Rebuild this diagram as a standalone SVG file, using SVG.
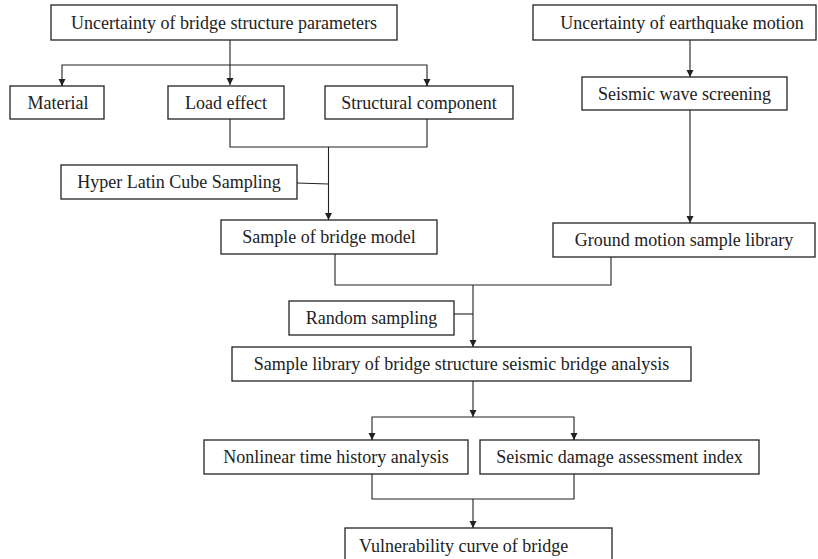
<svg xmlns="http://www.w3.org/2000/svg" width="818" height="559" viewBox="0 0 818 559">
<style>
.box{fill:#fff;stroke:#222;stroke-width:1.3}
.lbl{font-family:'Liberation Serif','DejaVu Serif','Times New Roman',serif;font-size:18px;fill:#222;text-anchor:middle}
.ln{fill:none;stroke:#222;stroke-width:1.1}
</style>
<defs>
<marker id="ah" markerUnits="userSpaceOnUse" markerWidth="8" markerHeight="8" refX="7" refY="3.5" orient="auto">
<path d="M0,0 L7,3.5 L0,7 z" fill="#222"/>
</marker>
</defs>
<rect width="818" height="559" fill="#fff"/>
<g id="connectors">
<path class="ln" d="M230,40 V85" marker-end="url(#ah)"/>
<path class="ln" d="M62,86 V65 H427 V86" />
<path class="ln" d="M62,80 V86" marker-end="url(#ah)"/>
<path class="ln" d="M427,80 V86" marker-end="url(#ah)"/>
<path class="ln" d="M230,119 V147 H427 V119"/>
<path class="ln" d="M328.5,147 V220" marker-end="url(#ah)"/>
<path class="ln" d="M297,183 L328.5,184"/>
<path class="ln" d="M690,40 V77" marker-end="url(#ah)"/>
<path class="ln" d="M690,110 V223" marker-end="url(#ah)"/>
<path class="ln" d="M335,254 V285 H611 V257"/>
<path class="ln" d="M473,285 V347" marker-end="url(#ah)"/>
<path class="ln" d="M454,314 H473"/>
<path class="ln" d="M473,381 V417" marker-end="url(#ah)"/>
<path class="ln" d="M372,440 V417 H574 V440"/>
<path class="ln" d="M372,434 V440" marker-end="url(#ah)"/>
<path class="ln" d="M574,434 V440" marker-end="url(#ah)"/>
<path class="ln" d="M372,474 V499 H574 V474"/>
<path class="ln" d="M473,499 V528" marker-end="url(#ah)"/>
</g>
<g id="n-bridge-params"><rect class="box" x="51" y="5" width="346" height="35"/><text class="lbl" x="224" y="28.5">Uncertainty of bridge structure parameters</text></g>
<g id="n-earthquake"><rect class="box" x="533" y="5" width="283" height="35"/><text class="lbl" x="682" y="28.5">Uncertainty of earthquake motion</text></g>
<g id="n-material"><rect class="box" x="10" y="86" width="94" height="33"/><text class="lbl" x="58" y="108.5">Material</text></g>
<g id="n-load"><rect class="box" x="168" y="86" width="116" height="33"/><text class="lbl" x="226" y="108.5">Load effect</text></g>
<g id="n-structural"><rect class="box" x="325" y="86" width="188" height="33"/><text class="lbl" x="419" y="108.5">Structural component</text></g>
<g id="n-wave"><rect class="box" x="582" y="77" width="205" height="33"/><text class="lbl" x="684.5" y="99.5">Seismic wave screening</text></g>
<g id="n-lhs"><rect class="box" x="61" y="165" width="236" height="34"/><text class="lbl" x="179" y="188">Hyper Latin Cube Sampling</text></g>
<g id="n-bridge-model"><rect class="box" x="221" y="220" width="216" height="34"/><text class="lbl" x="329" y="243">Sample of bridge model</text></g>
<g id="n-ground"><rect class="box" x="553" y="223" width="262" height="34"/><text class="lbl" x="684" y="246">Ground motion sample library</text></g>
<g id="n-random"><rect class="box" x="289" y="301" width="165" height="34"/><text class="lbl" x="371.5" y="324">Random sampling</text></g>
<g id="n-library"><rect class="box" x="232" y="347" width="459" height="34"/><text class="lbl" x="461.5" y="370">Sample library of bridge structure seismic bridge analysis</text></g>
<g id="n-nonlinear"><rect class="box" x="204" y="440" width="264" height="34"/><text class="lbl" x="336" y="463">Nonlinear time history analysis</text></g>
<g id="n-damage"><rect class="box" x="480" y="440" width="279" height="34"/><text class="lbl" x="619.5" y="463">Seismic damage assessment index</text></g>
<g id="n-vulnerability"><rect class="box" x="345" y="528" width="267" height="40"/><text class="lbl" x="359" y="552" style="text-anchor:start">Vulnerability curve of bridge</text></g>
</svg>
